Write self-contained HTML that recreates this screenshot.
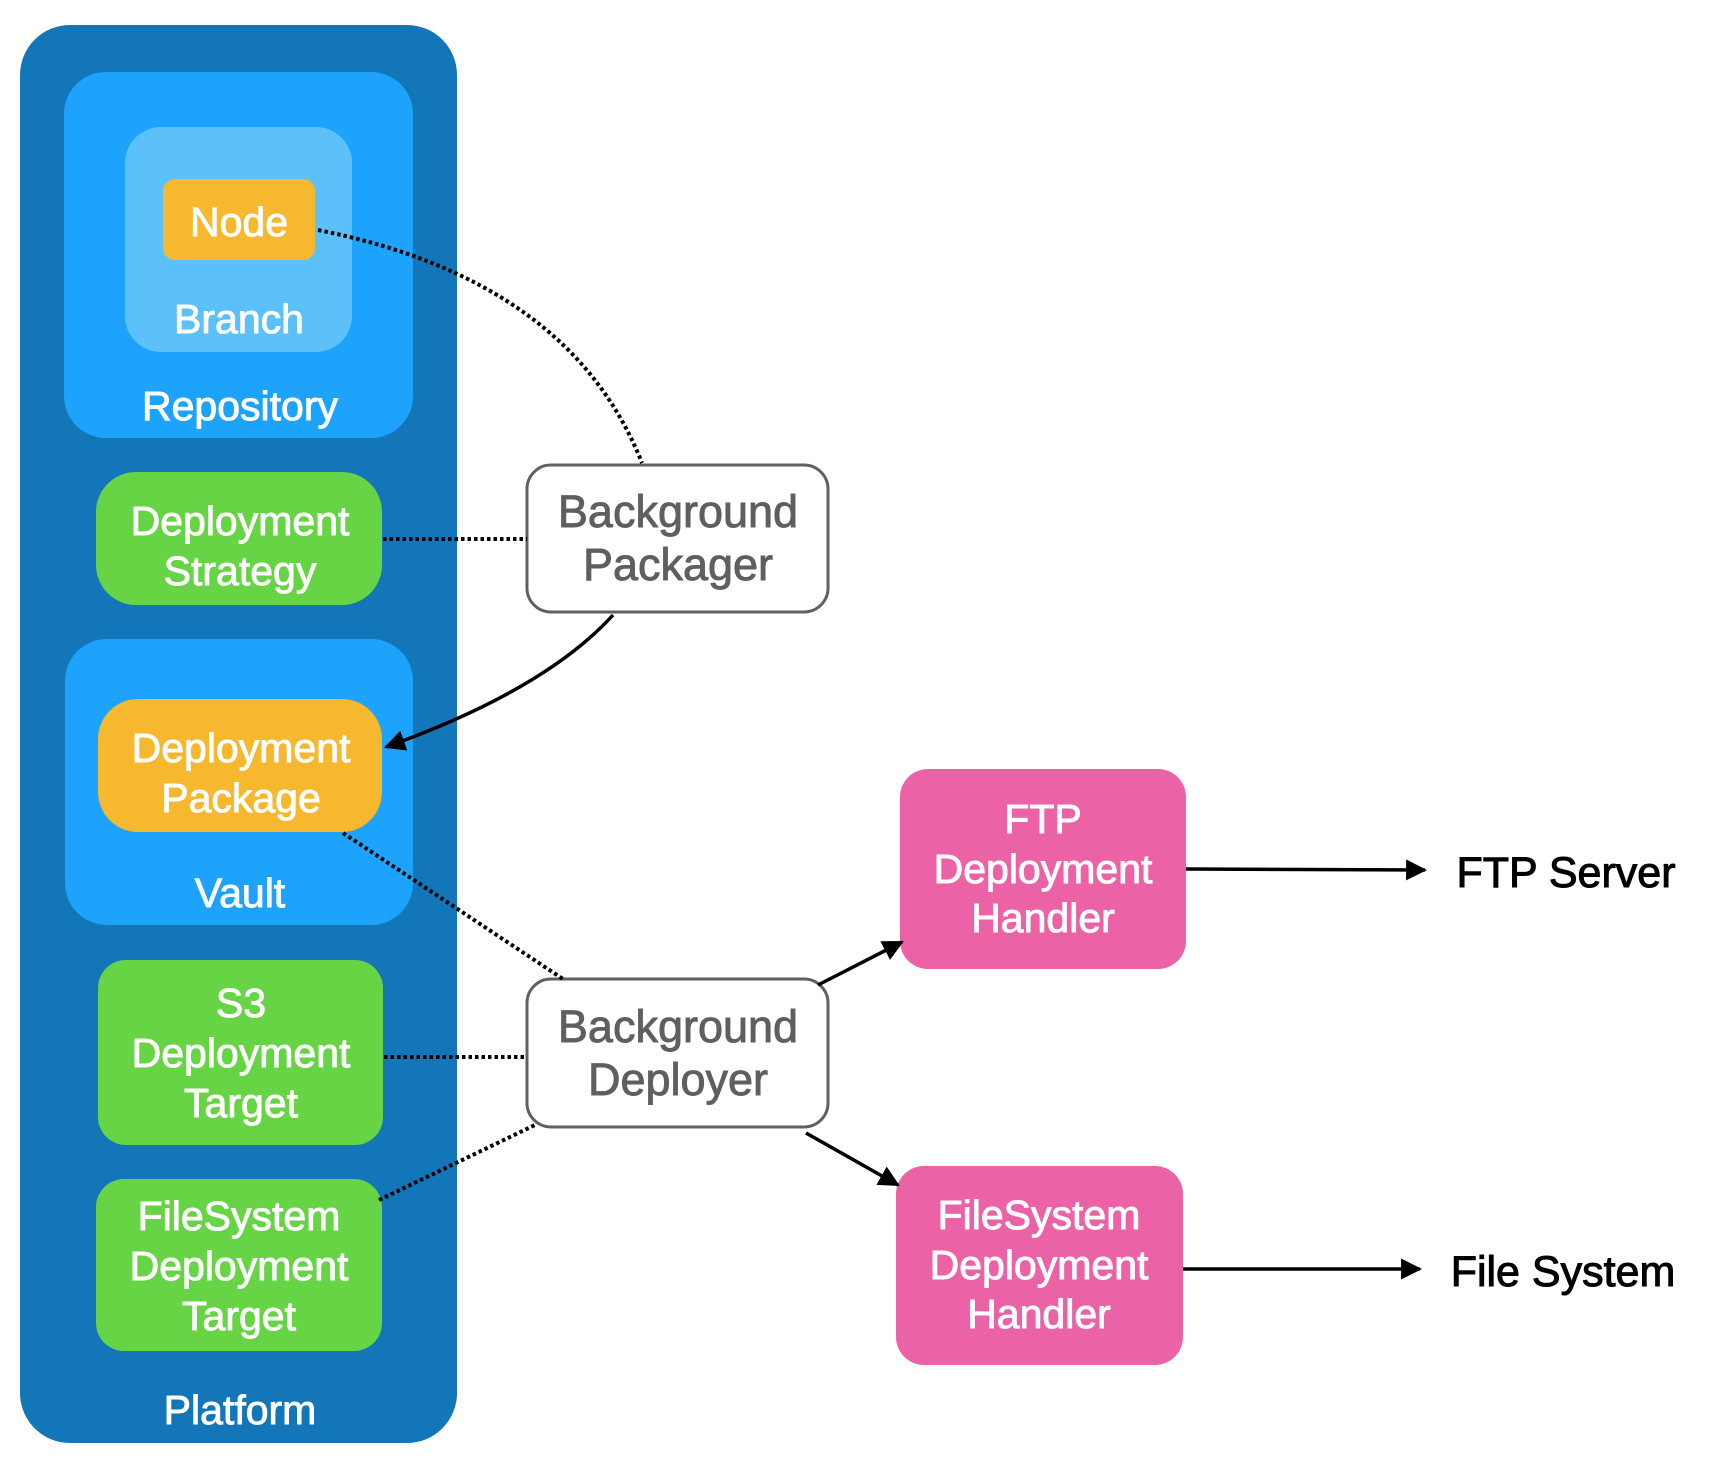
<!DOCTYPE html>
<html><head><meta charset="utf-8"><style>
html,body{margin:0;padding:0;background:#fff;}
svg{display:block;}
text{font-family:"Liberation Sans",Arial,sans-serif;text-anchor:middle;}
.w{fill:#fff;font-size:41px;stroke:#fff;stroke-width:0.9px;}
.g{fill:#5f5f5f;font-size:45px;stroke:#5f5f5f;stroke-width:0.9px;}
.b{fill:#000;font-size:43px;stroke:#000;stroke-width:1px;}
</style></head><body>
<svg width="1710" height="1460" viewBox="0 0 1710 1460" xmlns="http://www.w3.org/2000/svg">
<defs>
<marker id="ah" viewBox="0 0 10 10" refX="9" refY="5" markerWidth="6" markerHeight="6" orient="auto" markerUnits="strokeWidth">
<path d="M0,0 L10,5 L0,10 z" fill="#000"/></marker>
</defs>
<rect x="20" y="25" width="437" height="1418" rx="50" fill="#1376b8"/>
<rect x="64" y="72" width="349" height="366" rx="42" fill="#1ea3fc"/>
<rect x="125" y="127" width="227" height="225" rx="36" fill="#5cc1fb"/>
<rect x="163" y="179" width="152" height="81" rx="12" fill="#f6b82e"/>
<text class="w" x="239" y="236">Node</text>
<text class="w" x="239" y="333">Branch</text>
<text class="w" x="240" y="420">Repository</text>

<rect x="96" y="472" width="286" height="133" rx="40" fill="#66d444"/>
<text class="w" x="240" y="535">Deployment</text>
<text class="w" x="240" y="585">Strategy</text>

<rect x="65" y="639" width="348" height="286" rx="42" fill="#1ea3fc"/>
<rect x="98" y="699" width="284" height="133" rx="40" fill="#f6b82e"/>
<text class="w" x="241" y="762">Deployment</text>
<text class="w" x="241" y="812">Package</text>
<text class="w" x="240" y="907">Vault</text>

<rect x="98" y="960" width="285" height="185" rx="28" fill="#66d444"/>
<text class="w" x="241" y="1017">S3</text>
<text class="w" x="241" y="1067">Deployment</text>
<text class="w" x="241" y="1117">Target</text>

<rect x="96" y="1179" width="286" height="172" rx="28" fill="#66d444"/>
<text class="w" x="239" y="1230">FileSystem</text>
<text class="w" x="239" y="1280">Deployment</text>
<text class="w" x="239" y="1330">Target</text>

<text class="w" x="240" y="1424">Platform</text>

<rect x="527" y="465" width="301" height="147" rx="24" fill="#fff" stroke="#606060" stroke-width="3"/>
<text class="g" x="678" y="527">Background</text>
<text class="g" x="678" y="580">Packager</text>
<rect x="527" y="979" width="301" height="148" rx="24" fill="#fff" stroke="#606060" stroke-width="3"/>
<text class="g" x="678" y="1042">Background</text>
<text class="g" x="678" y="1095">Deployer</text>

<rect x="900" y="769" width="286" height="200" rx="28" fill="#ec62a6"/>
<text class="w" x="1043" y="833">FTP</text>
<text class="w" x="1043" y="883">Deployment</text>
<text class="w" x="1043" y="932">Handler</text>
<rect x="896" y="1166" width="287" height="199" rx="28" fill="#ec62a6"/>
<text class="w" x="1039" y="1229">FileSystem</text>
<text class="w" x="1039" y="1279">Deployment</text>
<text class="w" x="1039" y="1328">Handler</text>

<text class="b" x="1566" y="887">FTP Server</text>
<text class="b" x="1563" y="1286">File System</text>

<g fill="none" stroke="#000" stroke-width="4" stroke-dasharray="3.5 3">
<path d="M318 230 Q 570 280 642 463"/>
<path d="M383 539 L527 539"/>
<path d="M343 833 L563 979"/>
<path d="M384 1057 L527 1057"/>
<path d="M379 1200 L537 1124"/>
</g>
<g fill="none" stroke="#000" stroke-width="3.5" marker-end="url(#ah)">
<path d="M613 615 Q 545 690 386 747"/>
<path d="M818 985 L902 942"/>
<path d="M806 1133 L898 1185"/>
<path d="M1186 869 L1425 870"/>
<path d="M1183 1269 L1420 1269"/>
</g>
</svg>
</body></html>
